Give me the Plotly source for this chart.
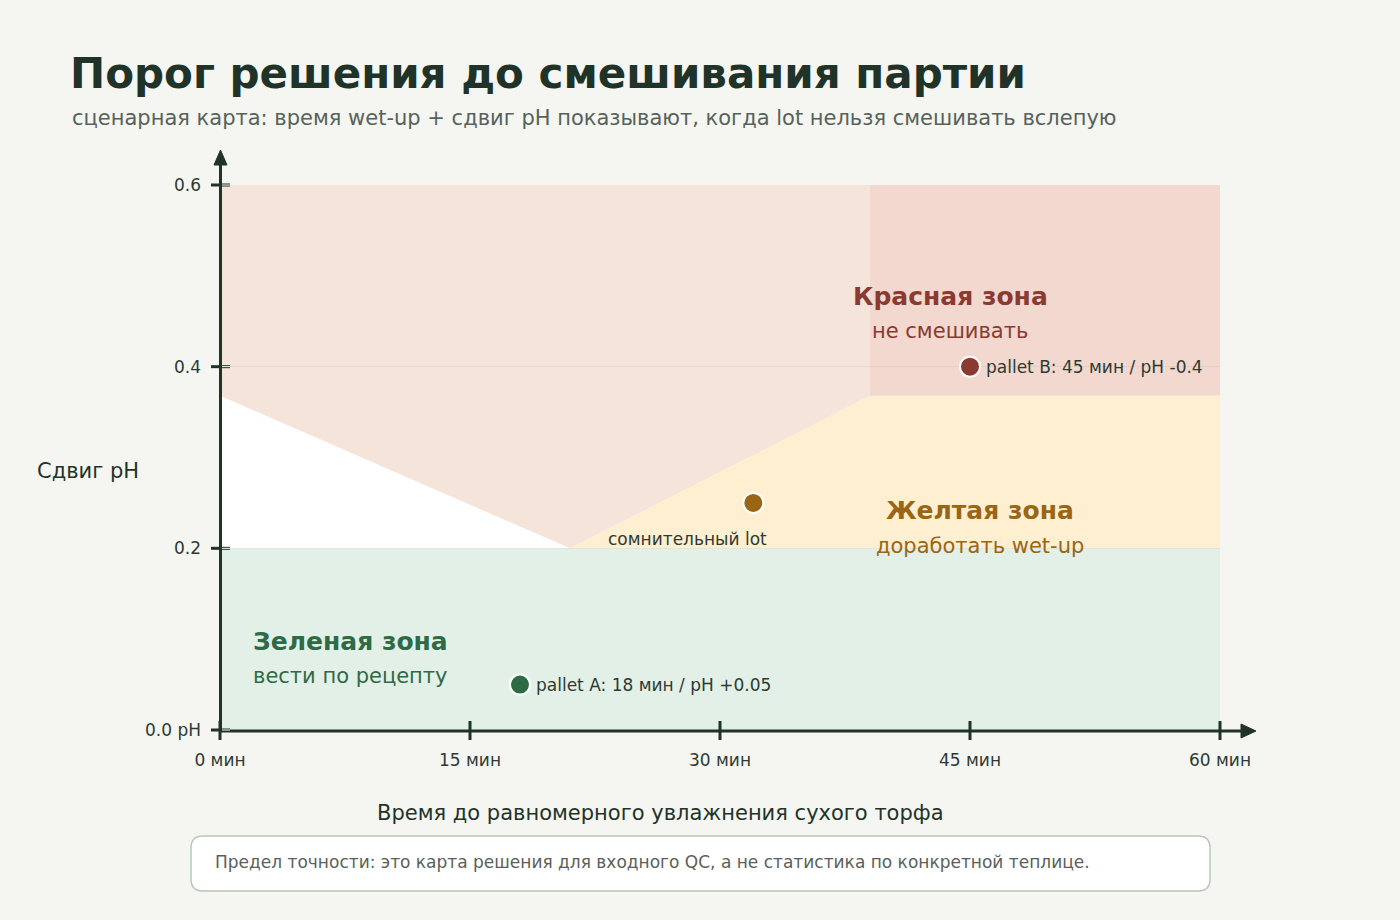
import plotly.graph_objects as go

# ---------------- data ----------------
x_ticks = [0, 15, 30, 45, 60]
x_tick_labels = ["0 мин", "15 мин", "30 мин", "45 мин", "60 мин"]
y_ticks = [0.0, 0.2, 0.4, 0.6]
y_tick_labels = ["0.0 pH", "0.2", "0.4", "0.6"]

x_max = 60
y_max = 0.6
green_limit_ph = 0.2          # below: green zone
red_limit_ph = 0.368          # above (and after red_start_min): red zone
red_start_min = 39            # red / yellow zones start
vertex_min = 21               # where the salmon wedge touches the 0.2 line

point_names = ["pallet A", "сомнительный lot", "pallet B"]
point_min = [18, 32, 45]
point_ph = [0.05, 0.25, 0.4]
point_labels = ["pallet A: 18 мин / pH +0.05", "сомнительный lot", "pallet B: 45 мин / pH -0.4"]

# ---------------- style ----------------
BG = "#f5f6f1"
DARK = "#1f3329"
SUB = "#56625a"
RED_T = "#8b3a31"
YEL_T = "#9a6514"
GRN_T = "#2e6b45"
C_SALMON = "#f5e4da"
C_RED = "#f2d8cf"
C_YEL = "#feefd0"
C_GRN = "#e3f0e7"
FONT = "DejaVu Sans"

W, H = 1400, 920
L, R, T, B = 220, 1220, 185, 730


def px(x):
    return (x - L) / (R - L)


def py(y):
    return (B - y) / (B - T)


fig = go.Figure()

# zones
shapes = []
shapes.append(dict(type="rect", xref="x", yref="y", x0=0, x1=x_max, y0=0, y1=green_limit_ph,
                   fillcolor=C_GRN, line_width=0, layer="below"))
shapes.append(dict(type="path", xref="x", yref="y",
                   path=f"M {vertex_min},{green_limit_ph} L {red_start_min},{red_limit_ph} L {x_max},{red_limit_ph} L {x_max},{green_limit_ph} Z",
                   fillcolor=C_YEL, line_width=0, layer="below"))
shapes.append(dict(type="path", xref="x", yref="y",
                   path=f"M 0,{y_max} L {red_start_min},{y_max} L {red_start_min},{red_limit_ph} L {vertex_min},{green_limit_ph} L 0,{red_limit_ph} Z",
                   fillcolor=C_SALMON, line_width=0, layer="below"))
shapes.append(dict(type="rect", xref="x", yref="y", x0=red_start_min, x1=x_max, y0=red_limit_ph, y1=y_max,
                   fillcolor=C_RED, line_width=0, layer="below"))

# axes lines + arrows (paper)
shapes.append(dict(type="line", xref="paper", yref="paper", x0=px(220), x1=px(1244), y0=py(731), y1=py(731),
                   line=dict(color=DARK, width=3)))
shapes.append(dict(type="line", xref="paper", yref="paper", x0=px(220.5), x1=px(220.5), y0=py(732), y1=py(162),
                   line=dict(color=DARK, width=3)))
shapes.append(dict(type="path", xref="paper", yref="paper",
                   path=f"M {px(1241)},{py(724)} L {px(1256)},{py(731)} L {px(1241)},{py(738)} Z",
                   fillcolor=DARK, line=dict(color=DARK, width=1)))
shapes.append(dict(type="path", xref="paper", yref="paper",
                   path=f"M {px(214)},{py(165)} L {px(220.5)},{py(150)} L {px(227)},{py(165)} Z",
                   fillcolor=DARK, line=dict(color=DARK, width=1)))
# ticks
for v in x_ticks:
    xx = L + (R - L) * v / x_max
    shapes.append(dict(type="line", xref="paper", yref="paper", x0=px(xx), x1=px(xx), y0=py(721), y1=py(740),
                       line=dict(color=DARK, width=3)))
for v in y_ticks:
    yy = B - (B - T) * v / y_max
    shapes.append(dict(type="line", xref="paper", yref="paper", x0=px(211), x1=px(230), y0=py(yy), y1=py(yy),
                       line=dict(color=DARK, width=3)))
    shapes.append(dict(type="line", xref="paper", yref="paper", x0=px(222), x1=px(230), y0=py(yy), y1=py(yy),
                       line=dict(color="white", width=1)))

# note box (rounded)
bx0, bx1, by0, by1, r = 191, 1210, 836, 891, 12
path = (f"M {px(bx0 + r)},{py(by0)} L {px(bx1 - r)},{py(by0)} Q {px(bx1)},{py(by0)} {px(bx1)},{py(by0 + r)} "
        f"L {px(bx1)},{py(by1 - r)} Q {px(bx1)},{py(by1)} {px(bx1 - r)},{py(by1)} "
        f"L {px(bx0 + r)},{py(by1)} Q {px(bx0)},{py(by1)} {px(bx0)},{py(by1 - r)} "
        f"L {px(bx0)},{py(by0 + r)} Q {px(bx0)},{py(by0)} {px(bx0 + r)},{py(by0)} Z")
shapes.append(dict(type="path", xref="paper", yref="paper", path=path, fillcolor="white",
                   line=dict(color="#b9c8b9", width=1.5)))

# points
point_colors = [GRN_T, YEL_T, RED_T]
fig.add_trace(go.Scatter(x=point_min, y=point_ph, mode="markers",
                         marker=dict(size=20, color=point_colors, line=dict(color="white", width=2)),
                         hoverinfo="text", text=point_names, showlegend=False, cliponaxis=False))

ann = []


def A(text, x, y, size, color, xanchor="left", bold=False, xref="paper", yref="paper", yanchor="middle"):
    if bold:
        text = f"<b>{text}</b>"
    ann.append(dict(text=text, x=x, y=y, xref=xref, yref=yref, xanchor=xanchor, yanchor=yanchor,
                    showarrow=False, font=dict(family=FONT, size=size, color=color)))


A("Порог решения до смешивания партии", px(68), py(74), 42, DARK, bold=True)
A("сценарная карта: время wet-up + сдвиг pH показывают, когда lot нельзя смешивать вслепую", px(70), py(118), 21, SUB)
A("Сдвиг pH", px(35), py(471), 21, DARK)
A("Время до равномерного увлажнения сухого торфа", px(660), py(813), 21, DARK, xanchor="center")
A("Предел точности: это карта решения для входного QC, а не статистика по конкретной теплице.",
  px(213), py(862), 17, "#5a5f5a")

A("Красная зона", px(950), py(296), 25, RED_T, xanchor="center", bold=True)
A("не смешивать", px(950), py(331), 21, RED_T, xanchor="center")
A("Желтая зона", px(980), py(511), 25, YEL_T, xanchor="center", bold=True)
A("доработать wet-up", px(980), py(546), 21, YEL_T, xanchor="center")
A("Зеленая зона", px(251), py(641), 25, GRN_T, bold=True)
A("вести по рецепту", px(251), py(676), 21, GRN_T)

# point labels via data coordinates
LBL = "#2d3a33"
ann.append(dict(text=point_labels[0], x=point_min[0], y=point_ph[0], xref="x", yref="y", xanchor="left",
                yanchor="middle", xshift=14, showarrow=False, font=dict(family=FONT, size=17, color=LBL)))
ann.append(dict(text=point_labels[1], x=point_min[1], y=point_ph[1], xref="x", yref="y", xanchor="center",
                yanchor="middle", xshift=-66, yshift=-36, showarrow=False, font=dict(family=FONT, size=17, color=LBL)))
ann.append(dict(text=point_labels[2], x=point_min[2], y=point_ph[2], xref="x", yref="y", xanchor="left",
                yanchor="middle", xshift=14, showarrow=False, font=dict(family=FONT, size=17, color=LBL)))

fig.update_layout(
    width=W, height=H,
    margin=dict(l=L, r=W - R, t=T, b=H - B, pad=0),
    paper_bgcolor=BG, plot_bgcolor="white",
    shapes=shapes, annotations=ann,
    font=dict(family=FONT, color=LBL),
    xaxis=dict(range=[0, x_max], tickvals=x_ticks, ticktext=x_tick_labels, showgrid=False, zeroline=False,
               showline=False, ticks="", tickfont=dict(size=17, color=LBL), ticklabelstandoff=18,
               fixedrange=True),
    yaxis=dict(range=[0, y_max], tickvals=y_ticks, ticktext=y_tick_labels, showgrid=True,
               gridcolor="rgba(0,0,0,0.05)", gridwidth=1, zeroline=False, showline=False, ticks="",
               tickfont=dict(size=17, color=LBL), ticklabelstandoff=18, fixedrange=True),
    showlegend=False,
)

fig.write_html("out.html")
